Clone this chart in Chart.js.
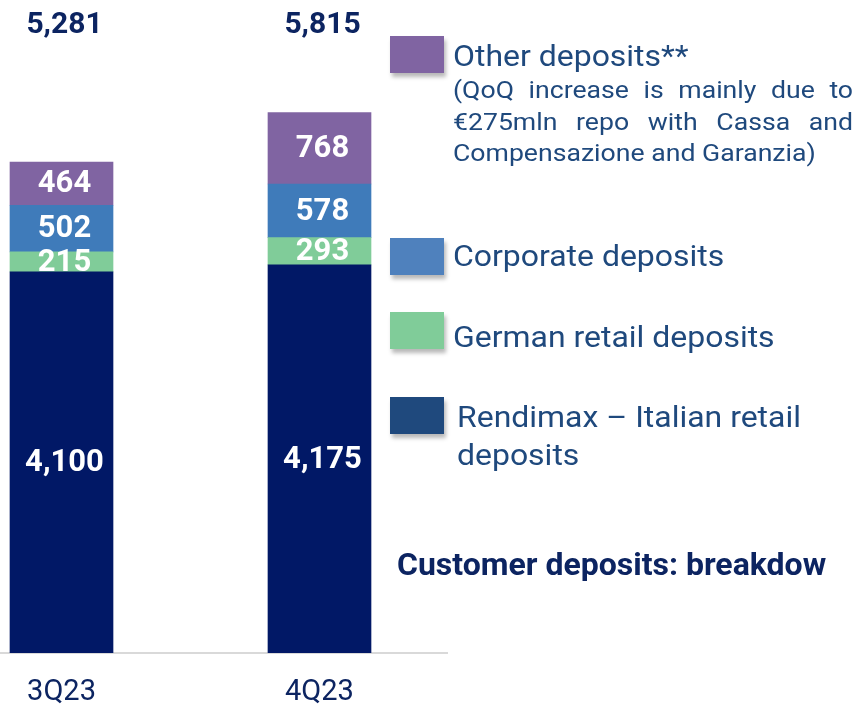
<!DOCTYPE html>
<html>
<head>
<meta charset="utf-8">
<script src="https://cdn.jsdelivr.net/npm/chart.js@4.4.1/dist/chart.umd.min.js"></script>
<style>
  html, body { margin: 0; padding: 0; background: #fff; }
  body { width: 859px; height: 709px; position: relative; overflow: hidden; font-family: Roboto, "Noto Sans", sans-serif; }
  #wrap { position: absolute; left: 0; top: 0; width: 448px; height: 709px; }
  .sw { position: absolute; left: 390px; width: 54px; height: 37px; box-shadow: 2px 4px 4px rgba(0,0,0,0.28); }
  .lg { position: absolute; left: 453px; font-size: 30px; line-height: 40px; color: #1F497D; white-space: nowrap;
        transform: scaleX(1.065); transform-origin: left top; }
  .note { position: absolute; left: 453px; top: 74px; width: 368px; font-size: 24.5px; line-height: 31.5px; color: #1F497D;
          transform: scaleX(1.087); transform-origin: left top; }
  .note div { text-align: justify; text-align-last: justify; white-space: nowrap; }
  .note div:last-child { text-align-last: left; }
  .title { position: absolute; left: 397px; top: 544px; font-size: 32px; line-height: 40px; font-weight: bold; color: #0C2461; white-space: nowrap; }
</style>
</head>
<body>
<div id="wrap"><canvas id="myChart"></canvas></div>

<div class="sw" style="top:36px;background:#8064A2"></div>
<div class="lg" style="top:36px">Other deposits**</div>
<div class="note">
  <div>(QoQ increase is mainly due to</div>
  <div>€275mln repo with Cassa and</div>
  <div>Compensazione and Garanzia)</div>
</div>

<div class="sw" style="top:238px;background:#4F81BD"></div>
<div class="lg" style="top:235.5px">Corporate deposits</div>

<div class="sw" style="top:312px;background:#80CC99"></div>
<div class="lg" style="top:316.5px">German retail deposits</div>

<div class="sw" style="top:397px;background:#1F497D"></div>
<div class="lg" style="top:397.5px;left:457px;line-height:38px">Rendimax – Italian retail<br>deposits</div>

<div class="title">Customer deposits: breakdow</div>

<script>
const quarters = ["3Q23", "4Q23"];
const rendimax = [4100, 4175];
const germanRetail = [215, 293];
const corporate = [502, 578];
const otherDeposits = [464, 768];
const totals = [5281, 5815];

const fmt = (v) => v.toLocaleString("en-US");
const toPoints = (arr) => arr.map((v, i) => ({ x: i, y: v }));

// white value inside each stacked segment, totals on a row at the top
const barLabels = {
    id: "barLabels",
    afterDatasetsDraw(chart) {
        const ctx = chart.ctx;
        ctx.save();
        ctx.textAlign = "center";
        ctx.textBaseline = "middle";
        ctx.fillStyle = "#ffffff";
        ctx.font = "bold 31px Roboto";
        chart.data.datasets.forEach((ds, di) => {
            chart.getDatasetMeta(di).data.forEach((bar, i) => {
                const p = bar.getProps(["x", "y", "base"], true);
                ctx.fillText(fmt(ds.data[i].y), p.x + 3, (p.y + p.base) / 2 + 1);
            });
        });
        ctx.fillStyle = "#0C2461";
        ctx.font = "bold 30px Roboto";
        chart.getDatasetMeta(0).data.forEach((bar, i) => {
            ctx.fillText(fmt(totals[i]), bar.x + 3, chart.chartArea.top + 25);
        });
        ctx.restore();
    },
};

const data = {
    datasets: [
        { label: "Rendimax – Italian retail deposits", data: toPoints(rendimax), backgroundColor: "#011866" },
        { label: "German retail deposits", data: toPoints(germanRetail), backgroundColor: "#80CC99" },
        { label: "Corporate deposits", data: toPoints(corporate), backgroundColor: "#3F7BBA" },
        { label: "Other deposits**", data: toPoints(otherDeposits), backgroundColor: "#8064A2" },
    ],
};

const config = {
    type: "bar",
    data: data,
    options: {
        responsive: true,
        maintainAspectRatio: false,
        animation: false,
        layout: { padding: 0 },
        barThickness: 103,
        plugins: {
            legend: { display: false },
            tooltip: { enabled: false },
        },
        scales: {
            x: {
                type: "linear",
                stacked: true,
                offset: false,
                min: -0.2384,
                max: 1.4981,
                grid: { display: false, drawTicks: false },
                border: { display: true, color: "#D9D9D9", width: 2 },
                afterBuildTicks: (scale) => {
                    scale.ticks = quarters.map((q, i) => ({ value: i }));
                },
                afterFit: (scale) => {
                    scale.height = 56;
                },
                ticks: {
                    padding: 22,
                    color: "#0C2461",
                    font: { family: "Roboto", size: 29 },
                    maxRotation: 0,
                    autoSkip: false,
                    callback: (v) => quarters[v],
                },
            },
            y: {
                display: false,
                stacked: true,
                min: 0,
                max: 7025,
            },
        },
    },
    plugins: [barLabels],
};

const ctx = document.getElementById("myChart").getContext("2d");
const myChart = new Chart(ctx, config);
</script>
</body>
</html>
